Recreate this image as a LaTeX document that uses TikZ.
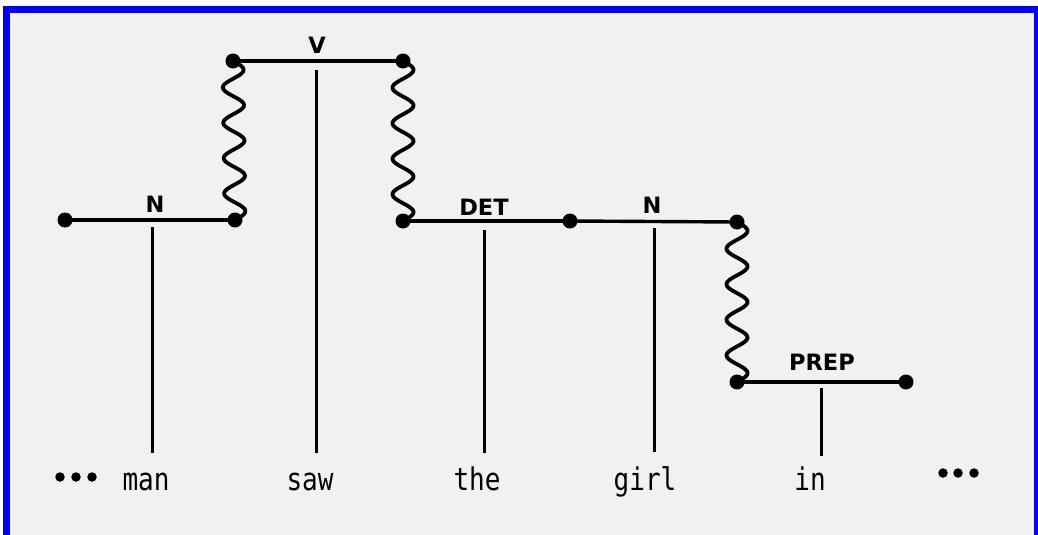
\documentclass[tikz,border=0pt]{standalone}
\usepackage{fontspec}
\usepackage{graphicx}
\newfontfamily\wordfont{DejaVu Sans Mono}
\newfontfamily\labfont{DejaVu Sans}
\usetikzlibrary{calc}
\definecolor{framebl}{RGB}{0,0,250}
\definecolor{paper}{RGB}{241,241,241}
\begin{document}
\begin{tikzpicture}[x=1pt,y=-1pt,
  bar/.style={line width=3.4pt},
  stem/.style={line width=3pt},
  wave/.style={line width=3.8pt, line join=round},
  jdot/.style={circle, fill=black, inner sep=0pt, minimum size=15pt},
  edot/.style={circle, fill=black, inner sep=0pt, minimum size=9.5pt},
  lab/.style={font=\labfont\bfseries\fontsize{22.5}{22.5}\selectfont, anchor=base, inner sep=0pt},
  word/.style={font=\wordfont\fontsize{26}{26}\selectfont, anchor=base, inner sep=0pt}]
\useasboundingbox (0,0) rectangle (1038,535);
\clip (0,0) rectangle (1038,535);
\fill[white] (0,0) rectangle (1038,535);
\fill[paper] (6.5,10) rectangle (1045,545);
\draw[framebl, line width=7pt] (6.5,545) -- (6.5,10) -- (1037.5,10) -- (1037.5,545);

% junction dots
\node[jdot] (n1l) at (65,220) {};
\node[jdot] (n1r) at (235,220) {};
\node[jdot] (vl) at (233,61) {};
\node[jdot] (vr) at (403,61) {};
\node[jdot] (detl) at (403,221) {};
\node[jdot] (detr) at (570,221) {};
\node[jdot] (n2r) at (737,222) {};
\node[jdot] (prepl) at (737,382) {};
\node[jdot] (prepr) at (906,382) {};

% bars
\draw[bar] (n1l.center) -- (n1r.center);
\draw[bar] (vl.center) -- (vr.center);
\draw[bar] (detl.center) -- (detr.center);
\draw[bar] (detr.center) -- (n2r.center);
\draw[bar] (prepl.center) -- (prepr.center);

% wavy links (4.5 periods of a sine between the two dots)
\draw[wave] let \p1=(vl.center), \p2=(n1r.center) in
  plot[variable=\t, domain=0:1, samples=140, smooth]
  ({\x1+(\x2-\x1)*\t+10.5pt*sin(1620*\t)}, {\y1+(\y2-\y1)*\t});
\draw[wave] let \p1=(vr.center), \p2=(detl.center) in
  plot[variable=\t, domain=0:1, samples=140, smooth]
  ({\x1+(\x2-\x1)*\t+10.5pt*sin(1620*\t)}, {\y1+(\y2-\y1)*\t});
\draw[wave] let \p1=(n2r.center), \p2=(prepl.center) in
  plot[variable=\t, domain=0:1, samples=140, smooth]
  ({\x1+(\x2-\x1)*\t+10.5pt*sin(1620*\t)}, {\y1+(\y2-\y1)*\t});

% category labels
\node[lab] (labn1) at (155,212) {N};
\node[lab] (labv) at (317,53) {V};
\node[lab] (labdet) at (484,215) {DET};
\node[lab] (labn2) at (652,213) {N};
\node[lab] (labprep) at (822,370) {PREP};

% words
\node[word] (wman) at (146,490) {\scalebox{1}[1.2]{man}};
\node[word] (wsaw) at (310,490) {\scalebox{1}[1.2]{saw}};
\node[word] (wthe) at (477,490) {\scalebox{1}[1.2]{the}};
\node[word] (wgirl) at (645,490) {\scalebox{1}[1.2]{girl}};
\node[word] (win) at (810,490) {\scalebox{1}[1.2]{in}};

% stems
\coordinate (s1t) at (152,227); \coordinate (s1b) at (152,453);
\coordinate (s2t) at (316,70);  \coordinate (s2b) at (316,453);
\coordinate (s3t) at (484,230); \coordinate (s3b) at (484,453);
\coordinate (s4t) at (654,228); \coordinate (s4b) at (654,452);
\coordinate (s5t) at (821,388); \coordinate (s5b) at (821,456);
\draw[stem] (s1t) -- (s1b);
\draw[stem] (s2t) -- (s2b);
\draw[stem] (s3t) -- (s3b);
\draw[stem] (s4t) -- (s4b);
\draw[stem] (s5t) -- (s5b);

% ellipsis dots
\node[edot] (el1) at (60,477) {};
\node[edot] (el2) at (76,477) {};
\node[edot] (el3) at (92,477) {};
\node[edot] (er1) at (943,473) {};
\node[edot] (er2) at (958,473) {};
\node[edot] (er3) at (974,473) {};
\end{tikzpicture}
\end{document}
